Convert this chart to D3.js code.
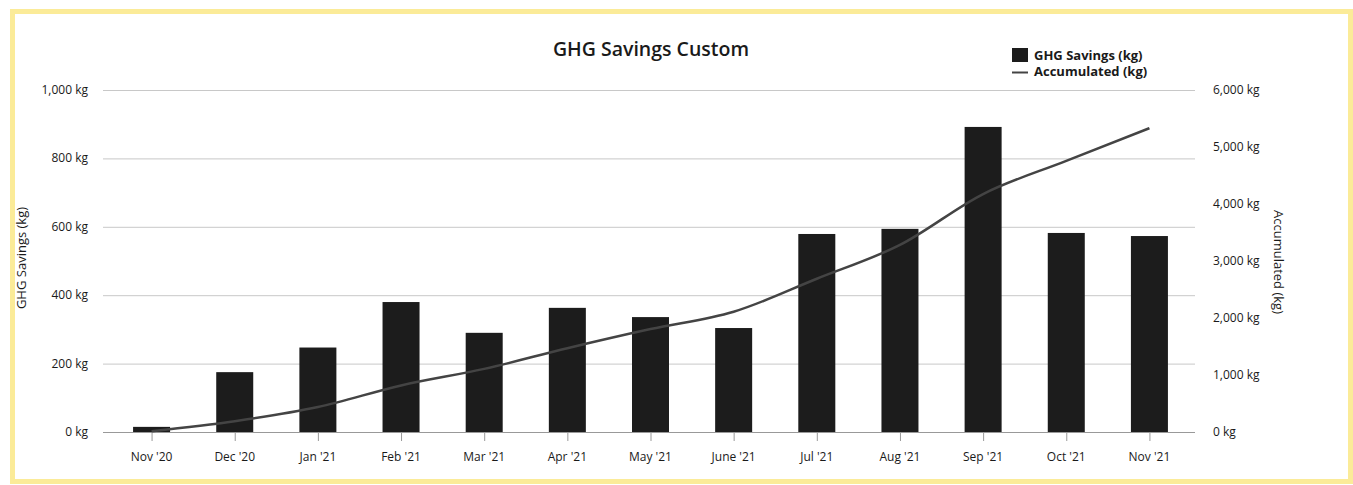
<!DOCTYPE html>
<html>
  <head>
    <meta charset="utf-8">
    <script src="https://d3js.org/d3.v7.min.js"></script>
    <style>
      body { margin: 0; background: #fff; }
      text { font-family: "Open Sans", "DejaVu Sans", sans-serif; fill: #1a1a1a; }
    </style>
  </head>
  <body>
    <svg id="chart" width="1353" height="485"></svg>
    <script>
      // data
      let months = ["Nov '20", "Dec '20", "Jan '21", "Feb '21", "Mar '21", "Apr '21", "May '21",
                    "June '21", "Jul '21", "Aug '21", "Sep '21", "Oct '21", "Nov '21"];
      let savings = [15, 175, 247, 380, 290, 363, 336, 304, 579, 594, 892, 582, 573];
      let accumulated = [15, 190, 437, 817, 1107, 1470, 1806, 2110, 2689, 3283, 4175, 4757, 5330];
      let leftTicks = [0, 200, 400, 600, 800, 1000];
      let rightTicks = [0, 1000, 2000, 3000, 4000, 5000, 6000];

      let svg = d3.select('#chart');
      let fmt = d3.format(',');

      // yellow frame
      svg.append('rect')
        .attr('x', 12.5).attr('y', 11.5)
        .attr('width', 1338).attr('height', 470)
        .attr('fill', '#fff')
        .attr('stroke', '#fbeb98')
        .attr('stroke-width', 5);

      let x = d3.scaleBand()
        .domain(months)
        .range([110, 1191])
        .paddingInner(0.555)
        .paddingOuter(0.2775);

      let yL = d3.scaleLinear().domain([0, 1000]).range([432, 90]);
      let yR = d3.scaleLinear().domain([0, 6000]).range([432, 90]);

      // grid
      svg.append('g').selectAll('line')
        .data(leftTicks)
        .enter().append('line')
        .attr('x1', 103).attr('x2', 1195)
        .attr('y1', d => yL(d) + 0.5).attr('y2', d => yL(d) + 0.5)
        .attr('stroke', '#c8c8c8').attr('stroke-width', 1);

      // left axis labels
      svg.append('g').selectAll('text')
        .data(leftTicks)
        .enter().append('text')
        .attr('x', 88).attr('y', d => yL(d) + 4)
        .attr('text-anchor', 'end')
        .attr('font-size', 12)
        .text(d => fmt(d) + ' kg');

      // right axis labels
      svg.append('g').selectAll('text')
        .data(rightTicks)
        .enter().append('text')
        .attr('x', 1213).attr('y', d => yR(d) + 4)
        .attr('text-anchor', 'start')
        .attr('font-size', 12)
        .text(d => fmt(d) + ' kg');

      // bars
      svg.append('g').selectAll('rect')
        .data(savings)
        .enter().append('rect')
        .attr('x', (d, i) => x(months[i]))
        .attr('y', d => yL(d))
        .attr('width', x.bandwidth())
        .attr('height', d => yL(0) - yL(d))
        .attr('fill', '#1c1c1c');

      // x axis
      svg.append('line')
        .attr('x1', 103).attr('x2', 1195)
        .attr('y1', 432.5).attr('y2', 432.5)
        .attr('stroke', '#999');

      let xg = svg.append('g');
      xg.selectAll('line')
        .data(months)
        .enter().append('line')
        .attr('x1', d => x(d) + x.bandwidth() / 2 + 0.5)
        .attr('x2', d => x(d) + x.bandwidth() / 2 + 0.5)
        .attr('y1', 432).attr('y2', 441)
        .attr('stroke', '#999');
      xg.selectAll('text')
        .data(months)
        .enter().append('text')
        .attr('x', d => x(d) + x.bandwidth() / 2)
        .attr('y', 461)
        .attr('text-anchor', 'middle')
        .attr('font-size', 12)
        .text(d => d);

      // accumulated line
      let line = d3.line()
        .x((d, i) => x(months[i]) + x.bandwidth() / 2)
        .y(d => yR(d))
        .curve(d3.curveMonotoneX);

      svg.append('path')
        .datum(accumulated)
        .attr('d', line)
        .attr('fill', 'none')
        .attr('stroke', '#444')
        .attr('stroke-width', 2.5);

      // title
      svg.append('text')
        .attr('x', 651).attr('y', 56)
        .attr('text-anchor', 'middle')
        .attr('font-size', 19.5)
        .attr('font-weight', 600)
        .text('GHG Savings Custom');

      // axis titles
      svg.append('text')
        .attr('transform', 'translate(26,258) rotate(-90)')
        .attr('text-anchor', 'middle')
        .attr('font-size', 13)
        .text('GHG Savings (kg)');

      svg.append('text')
        .attr('transform', 'translate(1274,262) rotate(90)')
        .attr('text-anchor', 'middle')
        .attr('font-size', 13)
        .text('Accumulated (kg)');

      // legend
      let lg = svg.append('g').attr('transform', 'translate(1012,48)');
      lg.append('rect')
        .attr('x', 0).attr('y', 0)
        .attr('width', 16).attr('height', 14)
        .attr('fill', '#1c1c1c');
      lg.append('text')
        .attr('x', 22).attr('y', 12)
        .attr('font-size', 13)
        .attr('font-weight', 'bold')
        .text('GHG Savings (kg)');
      lg.append('line')
        .attr('x1', 0).attr('x2', 16)
        .attr('y1', 24.5).attr('y2', 24.5)
        .attr('stroke', '#444').attr('stroke-width', 2);
      lg.append('text')
        .attr('x', 22).attr('y', 28)
        .attr('font-size', 13)
        .attr('font-weight', 'bold')
        .text('Accumulated (kg)');
    </script>
  </body>
</html>
